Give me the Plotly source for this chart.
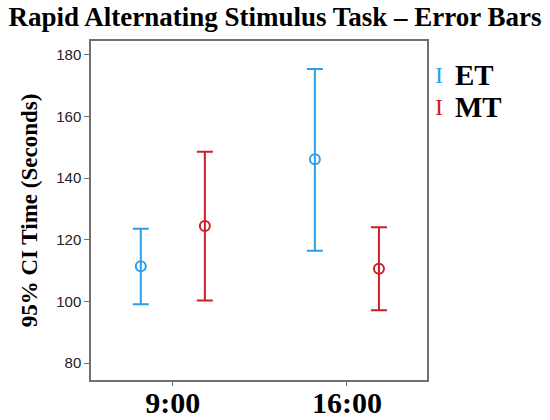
import plotly.graph_objects as go

times = ["9:00", "16:00"]
groups = ["ET", "MT"]
mean_et = [111.4, 146.1]
upper_et = [123.6, 175.4]
lower_et = [99.1, 116.4]
mean_mt = [124.5, 110.6]
upper_mt = [148.6, 124.1]
lower_mt = [100.3, 97.1]
y_ticks = [80, 100, 120, 140, 160, 180]

colors = {"ET": "#2E9FEC", "MT": "#CC1F2A"}
serif = "Liberation Serif"

fig = go.Figure()
for name, m, up, lo in [("ET", mean_et, upper_et, lower_et), ("MT", mean_mt, upper_mt, lower_mt)]:
    c = colors[name]
    fig.add_trace(go.Scatter(
        x=times, y=m, name=name, mode="markers",
        marker=dict(symbol="circle-open", size=10, color=c, line=dict(width=2, color=c)),
        error_y=dict(type="data", symmetric=False,
                     array=[u - v for u, v in zip(up, m)],
                     arrayminus=[v - l for v, l in zip(m, lo)],
                     color=c, thickness=2, width=8),
        showlegend=False,
    ))

# legend drawn as annotations
for i, name in enumerate(groups):
    yy = 0.901 - i * 0.095
    fig.add_annotation(xref="paper", yref="paper", x=1.035, y=yy, xanchor="center", yanchor="middle",
                       text="I", showarrow=False, height=24,
                       font=dict(family=serif, size=24, color=colors[name]))
    fig.add_annotation(xref="paper", yref="paper", x=1.077, y=yy, xanchor="left", yanchor="middle",
                       text="<b>%s</b>" % name, showarrow=False, height=28,
                       font=dict(family=serif, size=29, color="black"))

fig.update_layout(
    width=550, height=420,
    margin=dict(l=91, r=123, t=41, b=40),
    paper_bgcolor="white", plot_bgcolor="white",
    scattermode="group", scattergap=0.264,
    title=dict(text="<b>Rapid Alternating Stimulus Task – Error Bars</b>",
               x=0.5, xanchor="center", y=0.984, yanchor="top",
               font=dict(family=serif, size=27, color="black")),
    xaxis=dict(type="category", range=[-0.47, 1.46], automargin=False,
               showline=True, linecolor="#707070", linewidth=1.5, mirror=True,
               ticks="outside", ticklen=4, tickcolor="#707070",
               ticklabelstandoff=-9,
               tickprefix="<b>", ticksuffix="</b>",
               tickfont=dict(family=serif, size=30, color="black"),
               showgrid=False, zeroline=False),
    yaxis=dict(range=[74.5, 184.5], tickvals=y_ticks, automargin=False,
               showline=True, linecolor="#707070", linewidth=1.5, mirror=True,
               ticks="outside", ticklen=5, tickcolor="#707070",
               tickfont=dict(family="Liberation Sans", size=15, color="#222"),
               showgrid=False, zeroline=False,
               title=dict(text="<b>95% CI Time (Seconds)</b>", standoff=12,
                          font=dict(family=serif, size=23, color="black"))),
)

fig.write_html("out.html", config={"displayModeBar": False},
               post_script="document.body.style.margin='0';")
